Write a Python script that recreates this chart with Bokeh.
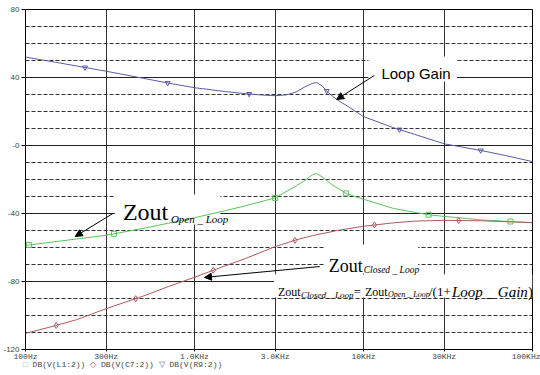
import numpy as np
from bokeh.plotting import figure
from bokeh.models import FixedTicker, Label, Arrow, NormalHead, BoxAnnotation, Div
from bokeh.layouts import column
from bokeh.embed import file_html
from bokeh.resources import INLINE

# ---------------- data ----------------
x_ticks = [100, 300, 1000, 3000, 10000, 30000, 100000]
x_tick_labels = ["100Hz", "300Hz", "1.0KHz", "3.0KHz", "10KHz", "30KHz", "100KHz"]
y_ticks = [-120, -80, -40, 0, 40, 80]
y_tick_labels = ["-120", "-80", "-40", "-0", "40", "80"]
y_minor = [-110, -100, -90, -70, -60, -50, -30, -20, -10, 10, 20, 30, 50, 60, 70]

# Loop gain (blue, triangles)
freq_lg = [100, 150, 200, 300, 500, 700, 1000, 1500, 2000, 2500, 3000, 3500, 4000,
           4500, 5000, 5300, 5700, 6200, 7000, 8000, 10000, 15000, 20000, 30000,
           50000, 70000, 100000]
db_lg = [52, 49, 46.8, 43.7, 39.5, 36.7, 34, 31.8, 30.5, 29.7, 29.3, 29.8, 31.5,
         34.5, 36.6, 37.0, 35.0, 31.0, 26.8, 23.3, 17, 10.5, 6.6, 1, -3, -6, -9.5]

# Zout open loop (green, squares)
freq_zo = [100, 200, 300, 500, 700, 1000, 1500, 2000, 3000, 4000, 4500, 5000, 5300,
           5700, 6500, 8000, 10000, 15000, 20000, 24000, 25000, 30000, 50000, 100000]
db_zo = [-58.8, -55, -52.8, -48.7, -45.7, -42.5, -38.5, -35.5, -30.8, -23.8, -20.5,
         -17.2, -16.5, -18.5, -23, -28.5, -31.6, -37, -39.3, -40.6, -40.9, -41.7,
         -43.8, -45.4]

# Zout closed loop (red, diamonds)
freq_zc = [100, 150, 200, 300, 500, 700, 1000, 1500, 2000, 3000, 4000, 5000, 7000,
           10000, 15000, 20000, 30000, 50000, 100000]
db_zc = [-110.5, -106, -102.5, -96, -88.5, -83, -77.5, -71, -66.5, -59.5, -55.5,
         -53, -50, -47.5, -45.5, -44.5, -44, -44.3, -45.4]

# marker frequencies along each trace
mk_lg = [225, 694, 2106, 6057, 16300, 49400]
mk_zo = [105, 334, 3000, 7900, 24300, 74100]
mk_zc = [152, 449, 1290, 3930, 11600, 36600]

legend_names = ["DB(V(L1:2))", "DB(V(C7:2))", "DB(V(R9:2))"]

BLUE = "#5a5ca6"
GREEN = "#5cc25c"
RED = "#b0585e"


def at(freqs, fdata, ddata):
    return list(np.interp(np.log10(freqs), np.log10(fdata), ddata))


p = figure(width=540, height=363, x_axis_type="log", x_range=(100, 100000),
           y_range=(-120, 80), output_backend="svg", toolbar_location=None,
           min_border_left=22, min_border_right=8, min_border_top=9,
           min_border_bottom=14, background_fill_color="white",
           border_fill_color="white")
p.outline_line_color = "black"
p.outline_line_width = 1

# grid
p.xgrid.ticker = FixedTicker(ticks=x_ticks, minor_ticks=[])
p.xgrid.grid_line_color = "#333333"
p.xgrid.grid_line_width = 1
p.ygrid.ticker = FixedTicker(ticks=y_ticks, minor_ticks=y_minor)
p.ygrid.grid_line_color = "#222222"
p.ygrid.grid_line_width = 1
p.ygrid.minor_grid_line_color = "#333333"
p.ygrid.minor_grid_line_dash = "4 2"
p.ygrid.minor_grid_line_width = 1

# axes
p.xaxis.ticker = FixedTicker(ticks=x_ticks, minor_ticks=[])
p.xaxis.major_label_overrides = dict(zip(x_ticks, x_tick_labels))
p.yaxis.ticker = FixedTicker(ticks=y_ticks, minor_ticks=[])
p.yaxis.major_label_overrides = dict(zip(y_ticks, y_tick_labels))
for ax in (p.xaxis, p.yaxis):
    ax.axis_line_color = None
    ax.major_tick_in = 0
    ax.minor_tick_out = 0
    ax.minor_tick_in = 0
    ax.major_tick_line_color = "black"
    ax.major_label_text_font_size = "8px"
    ax.major_label_text_color = "#444444"
p.xaxis.major_tick_out = 2
p.xaxis.major_label_standoff = 0
p.xaxis.major_label_text_font = "Liberation Mono"
p.yaxis.major_tick_out = 4
p.yaxis.major_label_standoff = 2
p.yaxis.major_label_text_font = "Liberation Sans"

# white boxes behind annotation texts (hide grid lines)
for (l, r, b, t) in [(10700, 35700, 37.6, 52.4), (338, 1422, -46.5, -28.8),
                     (5897, 21060, -75.3, -58.2), (2955, 100000, -89.4, -75.9)]:
    p.add_layout(BoxAnnotation(left=l, right=r, bottom=b, top=t, fill_color="white",
                               fill_alpha=1, line_color=None, level="underlay"))

# traces
p.line(freq_lg, db_lg, line_color=BLUE, line_width=1)
p.line(freq_zo, db_zo, line_color=GREEN, line_width=1)
p.line(freq_zc, db_zc, line_color=RED, line_width=1)
p.scatter(mk_lg, at(mk_lg, freq_lg, db_lg), marker="inverted_triangle", size=5,
          line_color=BLUE, fill_color=None)
p.scatter(mk_zo, at(mk_zo, freq_zo, db_zo), marker="square", size=5,
          line_color=GREEN, fill_color=None)
p.scatter(mk_zc, at(mk_zc, freq_zc, db_zc), marker="diamond", size=6,
          line_color=RED, fill_color=None)

# annotations
SERIF = "Liberation Serif"


def lab(x, y, text, size, style="normal", font=SERIF, dx=0, dy=0):
    p.add_layout(Label(x=x, y=y, x_offset=dx, y_offset=dy, text=text, text_font=font,
                       text_font_size=size, text_font_style=style, text_color="black",
                       text_baseline="alphabetic", text_align="left"))


def arrow(x0, y0, x1, y1):
    p.add_layout(Arrow(end=NormalHead(size=7, fill_color="black", line_color="black"),
                       x_start=x0, y_start=y0, x_end=x1, y_end=y1,
                       line_color="black", line_width=1))


lab(12760, 42.4, "Loop Gain", "15px", font="Liberation Sans")
arrow(11600, 41.2, 6940, 27.1)

lab(377, -39.4, "Zout", "24px")
lab(377, -39.4, "Open _ Loop", "11px", "italic", dx=48, dy=-7)
arrow(329, -40, 197, -53.5)

lab(6225, -70.6, "Zout", "18px")
lab(6225, -70.6, "Closed _ Loop", "9.5px", "italic", dx=35, dy=-4)
arrow(5510, -71.2, 1145, -77.6)

EQ_X, EQ_Y = 3120, -85.9
lab(EQ_X, EQ_Y, "Zout", "12px")
lab(EQ_X, EQ_Y, "Closed _ Loop", "9px", "italic", dx=23, dy=-3)
lab(EQ_X, EQ_Y, "=", "12px", dx=76)
lab(EQ_X, EQ_Y, "Zout", "12px", dx=87)
lab(EQ_X, EQ_Y, "Open _ Loop", "8px", "italic", dx=110, dy=-3)
lab(EQ_X, EQ_Y, "/(1+", "13px", dx=151)
lab(EQ_X, EQ_Y, "Loop _ Gain", "15px", "italic", dx=174)
lab(EQ_X, EQ_Y, ")", "15px", dx=250)

# legend row below the axis
syms = [("\u25a1", GREEN), ("\u25c7", RED), ("\u25bd", BLUE)]
html = " ".join('<span style="color:%s">%s</span> %s' % (c, s, n)
                for (s, c), n in zip(syms, legend_names))
legend = Div(text=html, width=540, height=7, margin=(0, 0, 0, 0),
             styles={"font-family": "Liberation Mono", "font-size": "8px",
                     "line-height": "4px", "color": "#444444", "padding-left": "23px",
                     "white-space": "pre", "overflow": "visible"})

layout = column(p, legend, spacing=0)
open("out.html", "w").write(file_html(layout, INLINE))
